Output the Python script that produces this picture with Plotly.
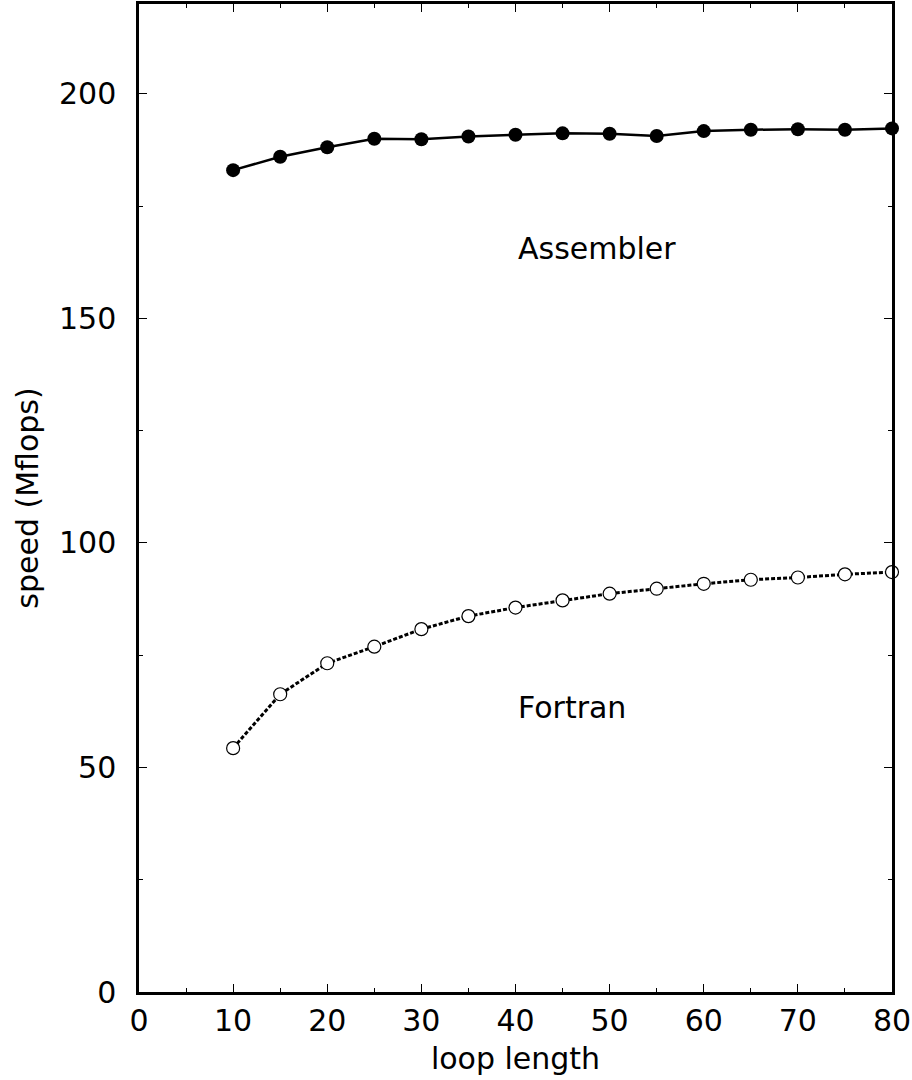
import plotly.graph_objects as go

loop_length = [10, 15, 20, 25, 30, 35, 40, 45, 50, 55, 60, 65, 70, 75, 80]
assembler = [183.0, 186.0, 188.1, 190.0, 189.9, 190.5, 190.9, 191.2, 191.1, 190.6, 191.7, 192.0, 192.1, 192.0, 192.3]
fortran = [54.3, 66.3, 73.2, 76.9, 80.8, 83.7, 85.6, 87.2, 88.7, 89.8, 90.9, 91.8, 92.3, 93.0, 93.5]

FONT = "DejaVu Sans, Liberation Sans, Arial, sans-serif"
FS = 30

fig = go.Figure()
fig.add_trace(go.Scatter(
    x=loop_length, y=assembler, mode="lines+markers", name="Assembler",
    line=dict(color="black", width=2.5),
    marker=dict(symbol="circle", size=14, color="black", line=dict(width=0)),
    cliponaxis=False,
))
fig.add_trace(go.Scatter(
    x=loop_length, y=fortran, mode="lines+markers", name="Fortran",
    line=dict(color="black", width=3, dash="4px,2px"),
    marker=dict(symbol="circle", size=13, color="white", line=dict(width=1.2, color="black")),
    cliponaxis=False,
))

fig.add_annotation(x=40, y=165.5, text="Assembler", showarrow=False, xanchor="left",
                   yanchor="middle", font=dict(family=FONT, size=FS, color="black"))
fig.add_annotation(x=40, y=63.3, text="Fortran", showarrow=False, xanchor="left",
                   yanchor="middle", font=dict(family=FONT, size=FS, color="black"))

axis_common = dict(
    showline=True, linecolor="black", linewidth=2.5, mirror="ticks",
    ticks="inside", ticklen=8, tickwidth=1.2, tickcolor="black",
    showgrid=False, zeroline=False,
    tickfont=dict(family=FONT, size=FS, color="black"),
)

fig.update_xaxes(
    range=[0, 80], tickmode="linear", tick0=0, dtick=10,
    minor=dict(dtick=5, ticks="inside", ticklen=4, tickwidth=1.2, tickcolor="black", showgrid=False),
    title=dict(text="loop length", font=dict(family=FONT, size=FS, color="black"), standoff=12),
    ticklabelstandoff=0,
    **axis_common,
)
fig.update_yaxes(
    range=[0, 220], tickmode="linear", tick0=0, dtick=50,
    minor=dict(dtick=25, ticks="inside", ticklen=4, tickwidth=1.2, tickcolor="black", showgrid=False),
    title=dict(text="speed (Mflops)", font=dict(family=FONT, size=FS, color="black"), standoff=12),
    ticklabelstandoff=14,
    **axis_common,
)

fig.update_layout(
    width=912, height=1080,
    margin=dict(l=139, r=20, t=4, b=88, autoexpand=False),
    plot_bgcolor="white", paper_bgcolor="white",
    showlegend=False,
    font=dict(family=FONT, color="black"),
)

fig.write_html("out.html", config={"displayModeBar": False},
               post_script="document.body.style.margin='0';document.body.style.overflow='hidden';")
